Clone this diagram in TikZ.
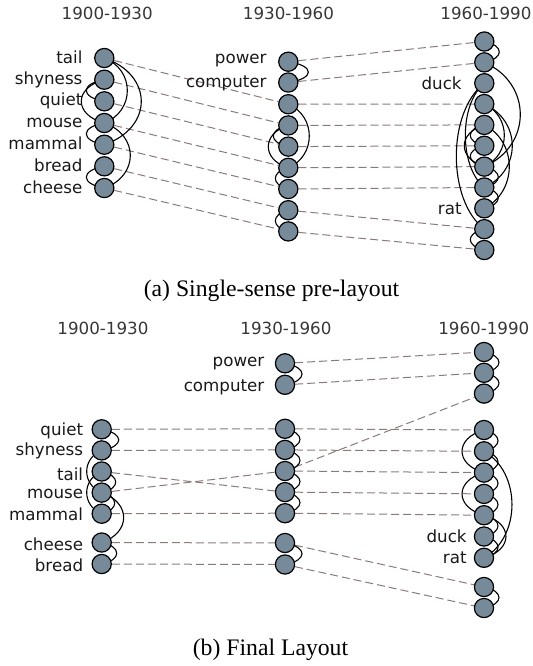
\documentclass[tikz,border=0pt]{standalone}
\usepackage{fontspec}
\setmainfont{Liberation Serif}
\newfontfamily\labfont{DejaVu Sans}
\pgfdeclarelayer{background}
\pgfsetlayers{background,main}
\definecolor{nodefill}{RGB}{119,138,153}
\definecolor{dashcol}{RGB}{140,122,122}
\definecolor{yearcol}{RGB}{55,55,55}
\newcommand\linkarc[4]{\draw[arcline] (#1.center) .. controls +(#3,#4) and +(#3,-#4) .. (#2.center);}
\begin{document}
\begin{tikzpicture}[x=0.5pt,y=-0.5pt,
 word/.style={circle,draw=black,line width=0.6pt,fill=nodefill,minimum size=9.6pt,inner sep=0pt},
 wlab/.style={anchor=base east,inner sep=0pt,font=\labfont\fontsize{8.35}{10}\selectfont,text=black!90},
 year/.style={anchor=base,inner sep=0pt,font=\labfont\fontsize{8.35}{10}\selectfont,text=yearcol},
 captext/.style={anchor=base,inner sep=0pt,font=\fontsize{11.85}{14}\selectfont},
 dashlink/.style={draw=dashcol,line width=0.5pt,dash pattern=on 4pt off 2pt},
 arcline/.style={draw=black,line width=0.55pt}]
\path[use as bounding box] (0,0) rectangle (532,666);

% ---------- top panel ----------
\node[year] (ya1) at (107.2,19.3) {1900-1930};
\node[year] (ya2) at (288.5,19.3) {1930-1960};
\node[year] (ya3) at (486,19.3) {1960-1990};

\node[word] (a1) at (104.3,58) {};
\node[word] (a2) at (104.3,79.7) {};
\node[word] (a3) at (104.3,101.3) {};
\node[word] (a4) at (104.3,123) {};
\node[word] (a5) at (104.3,144.7) {};
\node[word] (a6) at (104.3,166.3) {};
\node[word] (a7) at (104.3,188) {};

\node[word] (b1) at (288.3,61.7) {};
\node[word] (b2) at (288.3,82.5) {};
\node[word] (b3) at (288.3,104.2) {};
\node[word] (b4) at (288.3,125.4) {};
\node[word] (b5) at (288.3,146.6) {};
\node[word] (b6) at (288.3,167.8) {};
\node[word] (b7) at (288.3,189) {};
\node[word] (b8) at (288.3,210.2) {};
\node[word] (b9) at (288.3,231.4) {};

\node[word] (c1) at (484.3,41.5) {};
\node[word] (c2) at (484.3,62.35) {};
\node[word] (c3) at (484.3,83.2) {};
\node[word] (c4) at (484.3,104.05) {};
\node[word] (c5) at (484.3,124.9) {};
\node[word] (c6) at (484.3,145.75) {};
\node[word] (c7) at (484.3,166.6) {};
\node[word] (c8) at (484.3,187.45) {};
\node[word] (c9) at (484.3,208.3) {};
\node[word] (c10) at (484.3,229.15) {};
\node[word] (c11) at (484.3,250) {};

\node[wlab] (la1) at (82.8,63) {tail};
\node[wlab] (la2) at (82.8,84) {shyness};
\node[wlab] (la3) at (82.8,105.5) {quiet};
\node[wlab] (la4) at (82.8,127.5) {mouse};
\node[wlab] (la5) at (82.8,149.5) {mammal};
\node[wlab] (la6) at (82.8,171.5) {bread};
\node[wlab] (la7) at (82.8,193.5) {cheese};
\node[wlab] (lb1) at (267,63.5) {power};
\node[wlab] (lb2) at (267,87) {computer};
\node[wlab] (lc3) at (462,89) {duck};
\node[wlab] (lc9) at (462,214) {rat};

\node[captext] (capa) at (271.5,296.5) {(a) Single-sense pre-layout};

% ---------- bottom panel ----------
\node[year] (yb1) at (103,334.7) {1900-1930};
\node[year] (yb2) at (286,334.7) {1930-1960};
\node[year] (yb3) at (483.8,334.7) {1960-1990};

\node[word] (d1) at (101.7,429.3) {};
\node[word] (d2) at (101.7,450.4) {};
\node[word] (d3) at (101.7,471.5) {};
\node[word] (d4) at (101.7,492.6) {};
\node[word] (d5) at (101.7,513.7) {};
\node[word] (d6) at (101.7,542.5) {};
\node[word] (d7) at (101.7,564) {};

\node[word] (e1) at (285,363.3) {};
\node[word] (e2) at (285,384.8) {};
\node[word] (e3) at (285,428.8) {};
\node[word] (e4) at (285,449.9) {};
\node[word] (e5) at (285,471) {};
\node[word] (e6) at (285,492.1) {};
\node[word] (e7) at (285,513.2) {};
\node[word] (e8) at (285,543) {};
\node[word] (e9) at (285,564.5) {};

\node[word] (f1) at (484,352) {};
\node[word] (f2) at (484,372.8) {};
\node[word] (f3) at (484,393.6) {};
\node[word] (f4) at (484,430) {};
\node[word] (f5) at (484,451.3) {};
\node[word] (f6) at (484,472.6) {};
\node[word] (f7) at (484,493.9) {};
\node[word] (f8) at (484,515.2) {};
\node[word] (f9) at (484,536.5) {};
\node[word] (f10) at (484,557.8) {};
\node[word] (f11) at (484,587) {};
\node[word] (f12) at (484,608) {};

\node[wlab] (ld1) at (83.5,435) {quiet};
\node[wlab] (ld2) at (83.5,455.7) {shyness};
\node[wlab] (ld3) at (83.5,480) {tail};
\node[wlab] (ld4) at (83.5,498.3) {mouse};
\node[wlab] (ld5) at (83.5,520) {mammal};
\node[wlab] (ld6) at (83.5,550) {cheese};
\node[wlab] (ld7) at (83.5,571.7) {bread};
\node[wlab] (le1) at (264.7,366.7) {power};
\node[wlab] (le2) at (264.7,391.7) {computer};
\node[wlab] (lf9) at (467,542.7) {duck};
\node[wlab] (lf10) at (467,563.3) {rat};

\node[captext] (capb) at (270.5,655) {(b) Final Layout};

\begin{pgfonlayer}{background}
% top dashed
\draw[dashlink] (a1) -- (b3);
\draw[dashlink] (a2) -- (b4);
\draw[dashlink] (a3) -- (b5);
\draw[dashlink] (a4) -- (b6);
\draw[dashlink] (a5) -- (b7);
\draw[dashlink] (a6) -- (b8);
\draw[dashlink] (a7) -- (b9);
\draw[dashlink] (b1) -- (c1);
\draw[dashlink] (b2) -- (c2);
\draw[dashlink] (b3) -- (c4);
\draw[dashlink] (b4) -- (c5);
\draw[dashlink] (b5) -- (c6);
\draw[dashlink] (b6) -- (c7);
\draw[dashlink] (b7) -- (c8);
\draw[dashlink] (b8) -- (c10);
\draw[dashlink] (b9) -- (c11);
% bottom dashed
\draw[dashlink] (d1) -- (e3);
\draw[dashlink] (d2) -- (e4);
\draw[dashlink] (d3) -- (e6);
\draw[dashlink] (d4) -- (e5);
\draw[dashlink] (d5) -- (e7);
\draw[dashlink] (d6) -- (e8);
\draw[dashlink] (d7) -- (e9);
\draw[dashlink] (e1) -- (f1);
\draw[dashlink] (e2) -- (f2);
\draw[dashlink] (e3) -- (f4);
\draw[dashlink] (e4) -- (f5);
\draw[dashlink] (e5) -- (f3);
\draw[dashlink] (e5) -- (f6);
\draw[dashlink] (e6) -- (f7);
\draw[dashlink] (e7) -- (f8);
\draw[dashlink] (e8) -- (f11);
\draw[dashlink] (e9) -- (f12);

% top col1 arcs
\linkarc{a1}{a4}{30.7}{12}
\linkarc{a1}{a5}{49.3}{17}
\linkarc{a4}{a7}{34.7}{12}
\linkarc{a2}{a3}{-24}{4}
\linkarc{a2}{a4}{-30.7}{8}
\linkarc{a4}{a5}{-24}{4}
\linkarc{a6}{a7}{-24}{4}
% top col2 arcs
\linkarc{b1}{b2}{26.7}{4}
\linkarc{b3}{b6}{28}{12}
\linkarc{b4}{b6}{-26.7}{8}
\linkarc{b4}{b5}{-20}{4}
\linkarc{b6}{b7}{-17.3}{4}
\linkarc{b8}{b9}{-17.3}{4}
% top col3 arcs
\linkarc{c1}{c2}{20}{4}
\linkarc{c2}{c7}{48}{21}
\linkarc{c4}{c7}{26.7}{12}
\linkarc{c4}{c8}{37.3}{17}
\linkarc{c5}{c9}{33.3}{17}
\linkarc{c7}{c8}{18.7}{4}
\linkarc{c8}{c9}{18.7}{4}
\linkarc{c3}{c8}{-25.3}{21}
\linkarc{c3}{c10}{-37.3}{29}
\linkarc{c5}{c6}{-18.7}{4}
\linkarc{c5}{c7}{-26.7}{8}
\linkarc{c6}{c7}{-18.7}{4}
\linkarc{c10}{c11}{-18.7}{4}
% bottom col1 arcs
\linkarc{d1}{d2}{22.7}{4}
\linkarc{d2}{d4}{-20}{8}
\linkarc{d3}{d5}{-20}{8}
\linkarc{d3}{d4}{18.7}{4}
\linkarc{d4}{d5}{17.3}{4}
\linkarc{d4}{d6}{29.3}{10}
\linkarc{d6}{d7}{20}{4}
% bottom col2 arcs
\linkarc{e1}{e2}{22.7}{4}
\linkarc{e3}{e4}{20}{4}
\linkarc{e4}{e5}{20}{4}
\linkarc{e5}{e6}{20}{4}
\linkarc{e6}{e7}{20}{4}
\linkarc{e8}{e9}{22.7}{4}
% bottom col3 arcs
\linkarc{f1}{f2}{20}{4}
\linkarc{f2}{f3}{20}{4}
\linkarc{f4}{f5}{18.7}{4}
\linkarc{f5}{f6}{18.7}{4}
\linkarc{f6}{f7}{18.7}{4}
\linkarc{f7}{f8}{18.7}{4}
\linkarc{f8}{f9}{18.7}{4}
\linkarc{f9}{f10}{18.7}{4}
\linkarc{f4}{f6}{-29.3}{8}
\linkarc{f6}{f8}{-29.3}{8}
\linkarc{f5}{f10}{37.3}{21}
\linkarc{f8}{f10}{29.3}{8}
\linkarc{f11}{f12}{20}{4}
\end{pgfonlayer}
\end{tikzpicture}
\end{document}
